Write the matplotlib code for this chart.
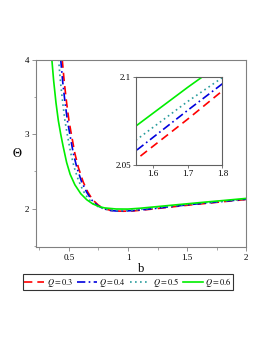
import matplotlib
matplotlib.use("Agg")
import matplotlib.pyplot as plt
from matplotlib.ticker import MultipleLocator

plt.rcParams['font.family'] = ['Liberation Serif', 'DejaVu Serif']
plt.rcParams['mathtext.fontset'] = 'stix'

q_labels = [r'$Q=0.3$', r'$Q=0.4$', r'$Q=0.5$', r'$Q=0.6$']

b_q03 = [0.443, 0.46, 0.48, 0.5, 0.52, 0.55, 0.58, 0.62, 0.66, 0.7, 0.75, 0.8, 0.85, 0.9, 0.96, 1.05, 1.2, 1.4, 1.55, 1.7, 1.8, 2.0]
t_q03 = [4.0, 3.7, 3.42, 3.18, 3.0, 2.74, 2.55, 2.36, 2.22, 2.12, 2.045, 2.0, 1.978, 1.968, 1.965, 1.97, 1.993, 2.028, 2.053, 2.076, 2.092, 2.122]

b_q04 = [0.43, 0.447, 0.467, 0.487, 0.507, 0.537, 0.567, 0.607, 0.65, 0.69, 0.74, 0.79, 0.85, 0.9, 0.96, 1.05, 1.2, 1.4, 1.55, 1.7, 1.8, 2.0]
t_q04 = [4.0, 3.7, 3.42, 3.18, 3.0, 2.74, 2.55, 2.36, 2.22, 2.12, 2.045, 2.0, 1.975, 1.968, 1.967, 1.974, 1.997, 2.033, 2.058, 2.081, 2.096, 2.126]

b_q05 = [0.412, 0.428, 0.447, 0.466, 0.485, 0.513, 0.543, 0.58, 0.62, 0.66, 0.71, 0.76, 0.82, 0.9, 0.96, 1.05, 1.2, 1.4, 1.55, 1.7, 1.8, 2.0]
t_q05 = [4.0, 3.7, 3.42, 3.18, 3.0, 2.76, 2.56, 2.38, 2.24, 2.14, 2.06, 2.015, 1.99, 1.975, 1.974, 1.981, 2.005, 2.04, 2.064, 2.086, 2.0995, 2.128]

b_q06 = [0.355, 0.37, 0.39, 0.41, 0.43, 0.45, 0.48, 0.51, 0.55, 0.6, 0.65, 0.7, 0.75, 0.8, 0.9, 1.0, 1.1, 1.2, 1.4, 1.55, 1.7, 1.8, 2.0]
t_q06 = [4.0, 3.72, 3.42, 3.18, 3.0, 2.84, 2.62, 2.46, 2.32, 2.2, 2.12, 2.065, 2.03, 2.01, 1.995, 1.994, 2.005, 2.02, 2.05, 2.072, 2.094, 2.108, 2.137]

series = [(b_q03, t_q03), (b_q04, t_q04), (b_q05, t_q05), (b_q06, t_q06)]
colors = ['#ff0000', '#0000dd', '#2a9d9d', '#00ee00']
styles = [(0, (5, 3)), (0, (5, 2, 1, 2)), (0, (1, 2)), '-']

x_ticks = [0.5, 1, 1.5, 2]
x_tick_labels = ['0.5', '1', '1.5', '2']
y_ticks = [2, 3, 4]
y_tick_labels = ['2', '3', '4']
ix_ticks = [1.6, 1.7, 1.8]
ix_tick_labels = ['1.6', '1.7', '1.8']
iy_ticks = [2.05, 2.1]
iy_tick_labels = ['2.05', '2.1']

fig = plt.figure(figsize=(2.66, 3.44), dpi=100)
ax = fig.add_axes([0.135, 0.283, 0.79, 0.544])
lines = []
for (bx, ty), c, ls in zip(series, colors, styles):
    ln, = ax.plot(bx, ty, color=c, linestyle=ls, linewidth=1.2)
    lines.append(ln)
ax.set_xlim(0.22, 2.0)
ax.set_ylim(1.49, 4.0)
ax.set_xticks(x_ticks)
ax.set_xticklabels(x_tick_labels)
ax.set_yticks(y_ticks)
ax.set_yticklabels(y_tick_labels)
ax.xaxis.set_minor_locator(MultipleLocator(0.25))
ax.yaxis.set_minor_locator(MultipleLocator(0.5))
ax.tick_params(which='major', labelsize=6.5, length=3, width=0.6, color='#808080', pad=2)
ax.tick_params(which='minor', length=1.8, width=0.5, color='#808080')
for s in ax.spines.values():
    s.set_color('#808080')
    s.set_linewidth(0.8)
ax.set_xlabel('b', fontsize=9, labelpad=1)
ax.set_ylabel(r'$\Theta$', fontsize=9, rotation=0, labelpad=5, va='center')

ins = fig.add_axes([0.510, 0.520, 0.326, 0.257])
for (bx, ty), c, ls in zip(series, colors, styles):
    ins.plot(bx, ty, color=c, linestyle=ls, linewidth=1.2)
ins.set_xlim(1.55, 1.8)
ins.set_ylim(2.05, 2.1)
ins.set_xticks(ix_ticks)
ins.set_xticklabels(ix_tick_labels)
ins.set_yticks(iy_ticks)
ins.set_yticklabels(iy_tick_labels)
ins.tick_params(which='major', labelsize=6.5, length=2, width=0.6, color='#606060', pad=1.5)
for s in ins.spines.values():
    s.set_color('#606060')
    s.set_linewidth(0.8)

leg = fig.legend(lines, q_labels, loc='center', bbox_to_anchor=(0.481, 0.18), ncol=4,
                 fontsize=6, frameon=True, fancybox=False, handlelength=2.4,
                 handletextpad=0.3, columnspacing=0.5, borderpad=0.15, borderaxespad=0)
leg.get_frame().set_edgecolor('black')
leg.get_frame().set_linewidth(0.8)

fig.savefig('out.png', dpi=100)
